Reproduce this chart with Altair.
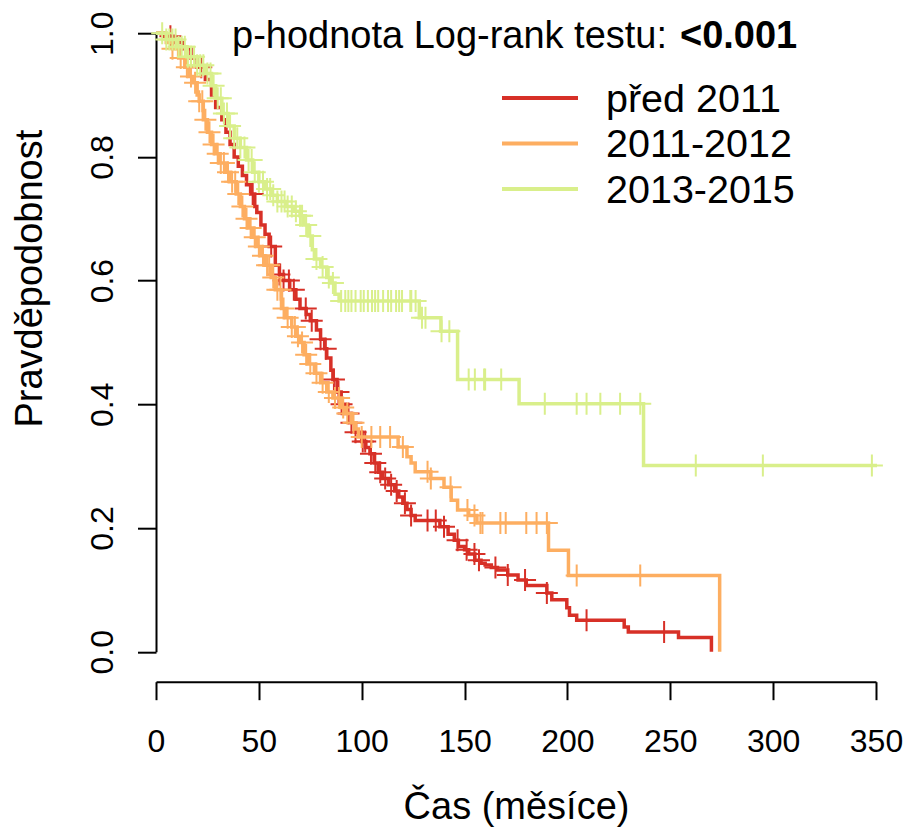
import altair as alt
import pandas as pd
import numpy as np

# ---------------- data ----------------
groups = ["před 2011", "2011-2012", "2013-2015"]
colors = ["#d73027", "#fdae61", "#d9ef8b"]

red_time = [0, 4, 9, 13, 17, 20, 24, 27, 29, 32, 34, 36, 38, 40, 42, 44, 46, 48, 49, 51,
            53, 55, 58, 60, 62, 65, 68, 70, 73, 75, 78, 80, 82, 83, 85, 86, 88, 90, 92, 95,
            97, 100, 102, 104, 106, 108, 110, 113, 116, 118, 120, 122, 124, 126, 138, 142,
            145, 147, 150, 152, 155, 158, 160, 163, 166, 171, 176, 180, 190, 192.4, 199.7,
            201, 204.5, 227.6, 229.6, 254, 270]
red_surv = [1.0, 0.995, 0.985, 0.975, 0.96, 0.945, 0.925, 0.9, 0.88, 0.86, 0.84, 0.82, 0.80,
            0.785, 0.77, 0.755, 0.74, 0.72, 0.71, 0.69, 0.675, 0.655, 0.625, 0.61, 0.60, 0.585,
            0.57, 0.555, 0.545, 0.535, 0.52, 0.505, 0.49, 0.475, 0.455, 0.44, 0.42, 0.40, 0.385,
            0.37, 0.355, 0.34, 0.33, 0.32, 0.305, 0.29, 0.28, 0.27, 0.26, 0.25, 0.24, 0.23, 0.22,
            0.212, 0.202, 0.19, 0.18, 0.17, 0.165, 0.158, 0.148, 0.143, 0.14, 0.136, 0.132,
            0.124, 0.116, 0.107, 0.095, 0.084, 0.071, 0.059, 0.051, 0.040, 0.032, 0.023, 0.0]
red_cens = [7, 22, 47, 56, 60, 62, 64.6, 67, 72.8, 75.7, 80, 82.5, 86.5, 88.7, 90.2, 93.6, 95,
            97, 100.5, 101.7, 104.5, 106.6, 109, 111.4, 114.3, 117, 121, 124, 132, 136, 140,
            146.6, 151, 154.8, 157, 165, 171, 179.4, 190, 209.3, 247]

orange_time = [0, 5, 8, 11, 14, 16, 18, 20, 21, 23, 25, 27, 29, 31, 34, 36, 39, 41, 43, 45, 47,
               49, 51, 53, 56, 58, 61, 63, 66, 68, 70, 72, 74, 77, 80, 83, 86, 90, 92, 95, 97,
               98.4, 117.7, 122, 124, 126, 133.6, 140, 143.5, 146.6, 152, 156, 190.8, 200.5, 274]
orange_surv = [1.0, 0.985, 0.975, 0.96, 0.945, 0.93, 0.92, 0.90, 0.89, 0.86, 0.84, 0.82, 0.805,
               0.79, 0.775, 0.76, 0.74, 0.72, 0.70, 0.685, 0.67, 0.655, 0.64, 0.625, 0.605,
               0.585, 0.555, 0.54, 0.525, 0.51, 0.50, 0.48, 0.465, 0.45, 0.435, 0.42, 0.41,
               0.395, 0.385, 0.37, 0.36, 0.347, 0.331, 0.315, 0.305, 0.291, 0.28, 0.266, 0.245,
               0.229, 0.22, 0.208, 0.164, 0.123, 0.0]
orange_cens = [8, 12, 15, 17, 19, 21, 22.5, 24, 26, 28, 30, 31.5, 33, 35, 37, 38.5, 40, 42, 44,
               46, 48, 50, 52, 54, 55, 57, 59, 60.5, 62, 64, 66, 67.5, 69, 71, 73, 75, 78, 81,
               84, 87, 89, 91, 93, 96, 100, 104.7, 109, 113.8, 120, 132, 133.6, 143.2, 151.4,
               154.8, 157.7, 158.7, 167.4, 170, 180, 185, 190, 204.5, 235.4]

green_time = [0, 5, 10, 15, 20, 24, 27, 29, 32, 35, 38, 41, 44, 47, 50, 53, 56, 59, 63, 67, 70,
              72, 74, 76, 77, 80, 83, 85, 87, 89, 128, 138.5, 146.6, 176.5, 237, 350.5]
green_surv = [1.0, 0.99, 0.978, 0.962, 0.948, 0.935, 0.915, 0.895, 0.87, 0.85, 0.83, 0.815,
              0.795, 0.775, 0.76, 0.748, 0.738, 0.728, 0.72, 0.712, 0.705, 0.69, 0.672, 0.65,
              0.635, 0.622, 0.605, 0.596, 0.578, 0.567, 0.54, 0.518, 0.44, 0.401, 0.301, 0.301]
green_cens = [3, 5, 6.5, 8, 9.5, 11, 12.5, 14, 15.5, 17, 18.5, 20, 21.5, 23, 25, 26.5, 28, 30,
              31.5, 33, 34.5, 36, 38, 39.5, 41, 43, 45, 46.5, 48, 50, 52, 54, 55.5, 57, 59, 61,
              62.5, 64, 66, 68, 70, 71, 73, 75, 78, 81, 84, 86, 90, 92, 93.5, 95, 97, 99.5, 101,
              103, 105, 106.5, 108, 110.4, 112.8, 114.3, 116.7, 118.2, 119.6, 123.6, 124.1,
              126.2, 129.3, 131, 138.8, 142.6, 152, 155, 159.5, 160, 167.8, 189, 204.5, 209.3,
              216, 225.6, 235.4, 262.4, 295, 348]

x_ticks = [0, 50, 100, 150, 200, 250, 300, 350]
y_ticks = [0.0, 0.2, 0.4, 0.6, 0.8, 1.0]
p_label = "p-hodnota Log-rank testu:"
p_value = "<0.001"
x_title = "Čas (měsíce)"
y_title = "Pravděpodobnost"

# ---------------- chart ----------------
FONT = "Liberation Sans"
W, H = 720, 618.5

x_scale = alt.Scale(domain=[0, 350], nice=False, zero=False)
y_scale = alt.Scale(domain=[0, 1], nice=False, zero=False)

x_axis = alt.Axis(values=x_ticks, format="d", offset=30, grid=False,
                  domainColor="black", domainWidth=2, tickColor="black", tickWidth=2,
                  tickSize=18, labelFontSize=32, labelFont=FONT, labelColor="black",
                  labelPadding=52, labelBaseline="alphabetic", labelFlush=False,
                  labelOverlap=False, title=x_title, titleFont=FONT, titleFontSize=38,
                  titleFontWeight="normal", titleColor="black", titleX=W / 2, titleY=137,
                  titleBaseline="alphabetic", titleAlign="center")
y_axis = alt.Axis(values=y_ticks, format=".1f", grid=False,
                  domainColor="black", domainWidth=2, tickColor="black", tickWidth=2,
                  tickSize=18.5, labelFontSize=32, labelFont=FONT, labelColor="black",
                  labelAngle=270, labelAlign="center", labelBaseline="alphabetic",
                  labelPadding=25.5, labelFlush=False, labelOverlap=False,
                  title=y_title, titleFont=FONT, titleFontSize=38, titleFontWeight="normal",
                  titleColor="black", titleAngle=270, titleX=-115, titleY=245,
                  titleBaseline="alphabetic", titleAlign="center")


def surv_at(times, survs, ts):
    times = np.asarray(times, dtype=float)
    survs = np.asarray(survs, dtype=float)
    idx = np.searchsorted(times, np.asarray(ts, dtype=float), side="right") - 1
    return survs[idx]


series = [(red_time, red_surv, red_cens), (orange_time, orange_surv, orange_cens),
          (green_time, green_surv, green_cens)]

layers = []
for name, col, (tt, ss, cc) in zip(groups, colors, series):
    df = pd.DataFrame({"t": tt, "s": ss, "group": name})
    layers.append(
        alt.Chart(df).mark_line(interpolate="step-after", color=col, strokeWidth=3.5,
                                clip=False).encode(
            x=alt.X("t:Q", scale=x_scale, axis=x_axis),
            y=alt.Y("s:Q", scale=y_scale, axis=y_axis),
        )
    )
    cdf = pd.DataFrame({"t": cc, "s": surv_at(tt, ss, cc), "group": name})
    layers.append(
        alt.Chart(cdf).mark_point(shape="M-1,0L1,0M0,-1L0,1", size=484, strokeWidth=2,
                                  color=col, filled=False, opacity=1, clip=False).encode(
            x=alt.X("t:Q", scale=x_scale, axis=x_axis),
            y=alt.Y("s:Q", scale=y_scale, axis=y_axis),
        )
    )

# p-value annotation
layers.append(
    alt.Chart(pd.DataFrame({"label": [p_label]})).mark_text(
        align="left", baseline="alphabetic", font=FONT, fontSize=38, color="black"
    ).encode(x=alt.value(76), y=alt.value(14.8), text="label:N")
)
layers.append(
    alt.Chart(pd.DataFrame({"label": [p_value]})).mark_text(
        align="left", baseline="alphabetic", font=FONT, fontSize=38, fontWeight="bold",
        color="black"
    ).encode(x=alt.value(524), y=alt.value(14.8), text="label:N")
)

# legend
row_y = [64.8, 110.3, 155.8]
for name, col, yy in zip(groups, colors, row_y):
    layers.append(
        alt.Chart(pd.DataFrame({"label": [name]})).mark_rule(
            color=col, strokeWidth=4
        ).encode(x=alt.value(346), x2=alt.value(422), y=alt.value(yy))
    )
    layers.append(
        alt.Chart(pd.DataFrame({"label": [name]})).mark_text(
            align="left", baseline="alphabetic", font=FONT, fontSize=39.5, color="black"
        ).encode(x=alt.value(450), y=alt.value(yy + 14), text="label:N")
    )

chart = alt.layer(*layers).properties(
    width=W, height=H,
    autosize=alt.AutoSizeParams(type="none"),
    padding={"left": 148, "top": 25.2, "right": 27, "bottom": 176},
    background="white",
).configure_view(stroke=None)

chart.save("out.html", embed_options={"renderer": "svg", "actions": False})
